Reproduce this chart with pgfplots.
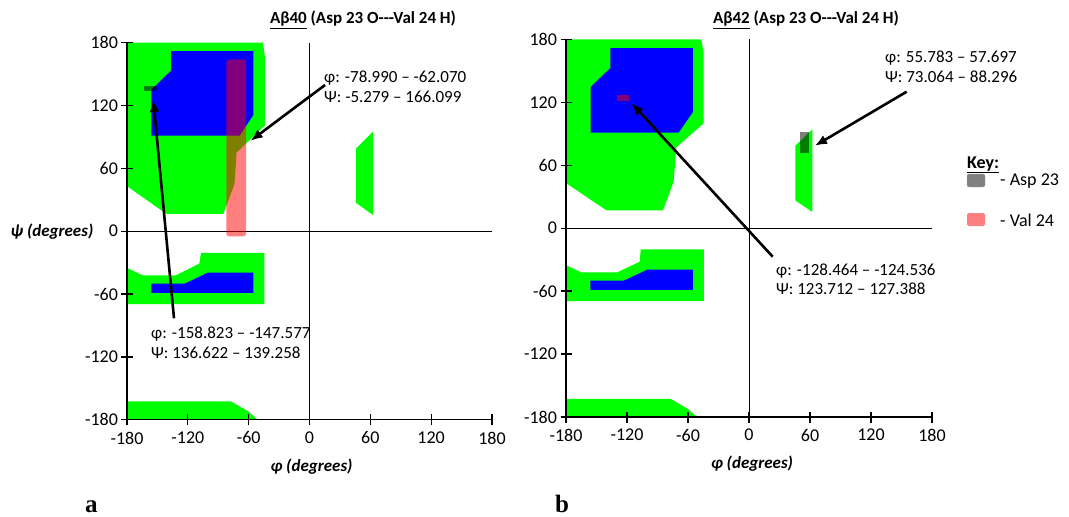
\documentclass[border=0pt]{standalone}
\usepackage{fontspec}
\setmainfont{Carlito}
\newfontfamily\seriffont{Liberation Serif}
\usepackage{pgfplots}
\pgfplotsset{compat=1.18}
\usetikzlibrary{arrows.meta}
\definecolor{rgreen}{RGB}{0,255,0}
\definecolor{rblue}{RGB}{0,0,255}
\definecolor{kpink}{RGB}{255,128,128}

\pgfplotsset{rama/.style={
  scale only axis, clip=false, axis on top,
  xmin=-180,xmax=180,ymin=-180,ymax=180,
  axis lines*=left,
  axis line style={line width=1.4pt},
  xtick={-180,-120,...,180}, ytick={-180,-120,...,180},
  tick align=center, major tick length=11pt,
  tick style={black, line width=1.3pt},
  tick label style={font=\fontsize{18}{20}\selectfont},
  xticklabel style={yshift=-3pt},
  /pgf/number format/assume math mode=true,
}}
\tikzset{ann/.style={font=\fontsize{17}{19.5}\selectfont, align=left, anchor=west, inner sep=0pt},
  arr/.style={line width=2.6pt, -{Latex[length=12pt,width=10pt]}}}

\begin{document}
\begin{tikzpicture}
\useasboundingbox (0,0) rectangle (1069pt,-517pt);

% ---------- panel a ----------
\begin{axis}[rama, width=365pt, height=377pt, at={(127pt,-419.7pt)}, anchor=south west]
\addplot[fill=rgreen, draw=none] coordinates {(-180,180) (-46,180) (-44,167) (-44,101) (-72,75) (-74,45) (-85,16.5) (-141,16.5) (-180,43)} -- cycle;
\addplot[fill=rblue, draw=none] coordinates {(-136.5,172) (-55.3,172) (-55.3,111) (-69,91.3) (-156,91.3) (-156,135) (-136.5,153.5)} -- cycle;
\addplot[fill=rgreen, draw=none] coordinates {(46,79) (62.5,95) (62.5,15.6) (46,27)} -- cycle;
\addplot[fill=rgreen, draw=none] coordinates {(-180,-69.6) (-44.4,-69.6) (-44.4,-20.6) (-107,-20.6) (-108.6,-31) (-131.6,-42.1) (-164.5,-42.1) (-180,-35.1)} -- cycle;
\addplot[fill=rblue, draw=none] coordinates {(-156,-50) (-123,-50) (-100.3,-39.6) (-55.3,-39.6) (-55.3,-58.8) (-156,-58.8)} -- cycle;
\addplot[fill=rgreen, draw=none] coordinates {(-180,-180) (-51,-180) (-61,-171.7) (-77.3,-162.6) (-180,-162.6)} -- cycle;
\draw[line width=1pt] (axis cs:0,-180) -- (axis cs:0,180);
\draw[line width=1pt] (axis cs:-180,0) -- (axis cs:180,0);
\addplot[fill=red, fill opacity=0.5, draw=none, rounded corners=3pt] coordinates {(-82,-5) (-62.5,-5) (-62.5,164) (-82,164)} -- cycle;
\addplot[fill=black, fill opacity=0.5, draw=none] coordinates {(-163,134) (-150,134) (-150,139) (-163,139)} -- cycle;
\end{axis}

% ---------- panel b ----------
\begin{axis}[rama, width=366pt, height=377.7pt, at={(566pt,-417pt)}, anchor=south west]
\addplot[fill=rgreen, draw=none] coordinates {(-180,180) (-46.9,180) (-44.6,167) (-44.6,100) (-71.5,77) (-74.1,44.5) (-84.6,17) (-140.3,17) (-180,43)} -- cycle;
\addplot[fill=rblue, draw=none] coordinates {(-136.4,171.5) (-55.1,171.5) (-55.1,110.7) (-69.2,91.1) (-155.7,91.1) (-155.7,134.6) (-136.4,152.6)} -- cycle;
\addplot[fill=rgreen, draw=none] coordinates {(45.6,78.5) (62.3,94.3) (62.3,15.4) (45.6,26.5)} -- cycle;
\addplot[fill=rgreen, draw=none] coordinates {(-180,-69.6) (-44.3,-69.6) (-44.3,-20.3) (-106.5,-20.3) (-107.5,-32) (-129.8,-42.2) (-164.9,-42.2) (-180,-35.3)} -- cycle;
\addplot[fill=rblue, draw=none] coordinates {(-156,-50) (-123,-50) (-100.3,-39.6) (-55.3,-39.6) (-55.3,-58.8) (-156,-58.8)} -- cycle;
\addplot[fill=rgreen, draw=none] coordinates {(-180,-180) (-51,-180) (-61,-171.7) (-77.3,-162.6) (-180,-162.6)} -- cycle;
\draw[line width=1pt] (axis cs:0,-180) -- (axis cs:0,180);
\draw[line width=1pt] (axis cs:-180,0) -- (axis cs:180,0);
\addplot[fill=black, fill opacity=0.5, draw=none] coordinates {(50,72) (59,72) (59,91.7) (50,91.7)} -- cycle;
\addplot[fill=red, fill opacity=0.5, draw=none] coordinates {(-130,121.4) (-118.4,121.4) (-118.4,126.5) (-130,126.5)} -- cycle;
\end{axis}

% ---------- titles and labels ----------
\node[font=\fontsize{17}{20}\selectfont\bfseries] at (363pt,-20pt) {\underline{Aβ40} (Asp 23 O-{}-{}-Val 24 H)};
\node[font=\fontsize{17}{20}\selectfont\bfseries] at (806pt,-20pt) {\underline{Aβ42} (Asp 23 O-{}-{}-Val 24 H)};
\node[font=\fontsize{17}{20}\selectfont\bfseries\itshape] at (52pt,-232pt) {ψ (degrees)};
\node[font=\fontsize{17}{20}\selectfont\bfseries\itshape] at (311.5pt,-466.7pt) {φ (degrees)};
\node[font=\fontsize{17}{20}\selectfont\bfseries\itshape] at (752pt,-464pt) {φ (degrees)};
\node[font=\fontsize{25}{27}\selectfont\seriffont\bfseries, anchor=base west, inner sep=0pt] at (85pt,-512pt) {a};
\node[font=\fontsize{25}{27}\selectfont\seriffont\bfseries, anchor=base west, inner sep=0pt] at (555pt,-512pt) {b};

% ---------- annotations ----------
\node[ann] at (324pt,-87pt) {φ: -78.990 – -62.070\\Ψ: -5.279 – 166.099};
\draw[arr] (325pt,-85pt) -- (250.7pt,-140.7pt);
\node[ann] at (151pt,-342.7pt) {φ: -158.823 – -147.577\\Ψ: 136.622 – 139.258};
\draw[arr] (174pt,-318.3pt) -- (153.3pt,-100pt);
\node[ann] at (885pt,-66.7pt) {φ: 55.783 – 57.697\\Ψ: 73.064 – 88.296};
\draw[arr] (906.7pt,-91.7pt) -- (815pt,-145.7pt);
\node[ann] at (776pt,-279.3pt) {φ: -128.464 – -124.536\\Ψ: 123.712 – 127.388};
\draw[arr] (772.7pt,-256.7pt) -- (631.7pt,-103.3pt);

% ---------- key ----------
\node[font=\fontsize{18}{20}\selectfont\bfseries, anchor=west, inner sep=0pt] at (967pt,-165pt) {\underline{Key:}};
\fill[gray, draw=gray!70, rounded corners=2pt] (967pt,-174pt) rectangle (985pt,-187pt);
\node[font=\fontsize{18}{20}\selectfont, anchor=west, inner sep=0pt] at (1000pt,-181pt) {- Asp 23};
\fill[kpink, rounded corners=2pt] (967pt,-213pt) rectangle (985pt,-226pt);
\node[font=\fontsize{18}{20}\selectfont, anchor=west, inner sep=0pt] at (1000pt,-220pt) {- Val 24};
\end{tikzpicture}
\end{document}
